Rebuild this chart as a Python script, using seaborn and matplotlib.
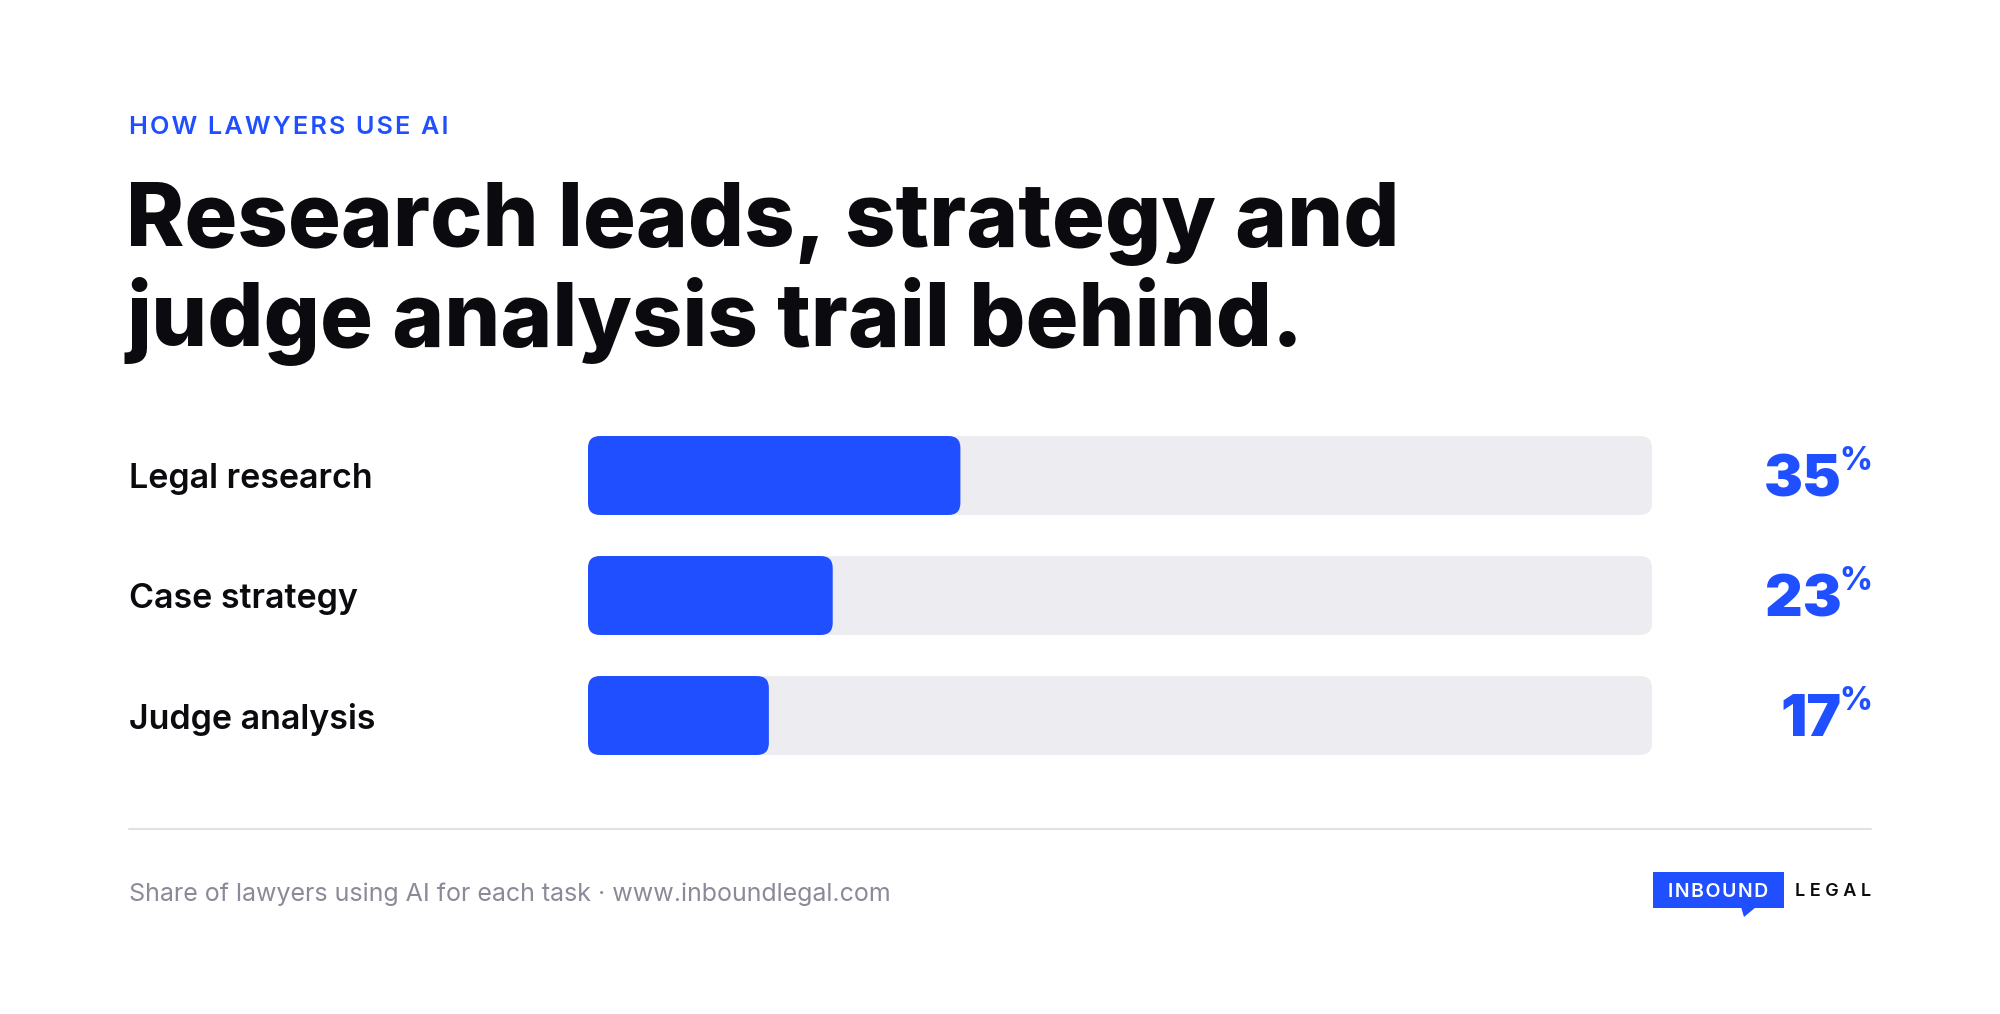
import matplotlib
matplotlib.use("Agg")
import matplotlib.pyplot as plt
import matplotlib.transforms as mtransforms
from matplotlib.patches import FancyBboxPatch, Polygon, Rectangle
from matplotlib.lines import Line2D
import seaborn as sns
import pandas as pd

# ---------------- data ----------------
categories = ["Legal research", "Case strategy", "Judge analysis"]
values = [35, 23, 17]
track_max = [100, 100, 100]
value_labels = ["35", "23", "17"]
eyebrow = "HOW LAWYERS USE AI"
title_lines = ["Research leads, strategy and", "judge analysis trail behind."]
footer = "Share of lawyers using AI for each task · www.inboundlegal.com"
logo_left = "INBOUND"
logo_right = "LEGAL"

# ---------------- style ----------------
BLUE = "#1F4FFF"
TRACK = "#ECECF1"
INK = "#0B0B0F"
GRAY = "#8A8A99"
RULE = "#E1E1E8"

sns.set_theme(style="white")
plt.rcParams["font.family"] = ["Inter", "DejaVu Sans"]

W, H = 2000, 1014
fig = plt.figure(figsize=(20, 10.14), dpi=100)
fig.patch.set_facecolor("white")


def fx(px):
    return px / W


def fy(py):
    return 1 - py / H


def spaced(s, sep="\u200a"):
    return sep.join(s)


# bar axes: x 588..1652 px, rows centred at 475.5 / 595.5 / 715.5 px
AX_L, AX_R = 588, 1652
ROW_PX = 120
ax = fig.add_axes([fx(AX_L), fy(475.5 + 2.5 * ROW_PX), (AX_R - AX_L) / W, 3 * ROW_PX / H])
df = pd.DataFrame({"task": categories, "value": values, "track": track_max})
sns.barplot(data=df, x="track", y="task", color=TRACK, width=0.658, saturation=1,
            orient="h", ax=ax)
sns.barplot(data=df, x="value", y="task", color=BLUE, width=0.658, saturation=1,
            orient="h", ax=ax)
ax.set_xlim(0, 100)
ax.set_ylim(2.5, -0.5)
ax.axis("off")

# round the bar corners
x_per_px = 100 / (AX_R - AX_L)
y_per_px = 3 / (3 * ROW_PX)
radius_px = 12
for p in list(ax.patches):
    x, y, w, h = p.get_x(), p.get_y(), p.get_width(), p.get_height()
    fc = p.get_facecolor()
    p.remove()
    ax.add_patch(FancyBboxPatch(
        (x, y), w, h,
        boxstyle=f"round,pad=0,rounding_size={radius_px * x_per_px}",
        mutation_aspect=y_per_px / x_per_px,
        fc=fc, ec="none", lw=0))

trans = mtransforms.blended_transform_factory(fig.transFigure, ax.transData)

# category labels
for i, cat in enumerate(categories):
    ax.text(fx(129), i, cat, transform=trans, ha="left", va="center_baseline",
            fontsize=24.5, fontweight="semibold", color=INK)

# value labels with superscript %
for i, v in enumerate(value_labels):
    ax.text(fx(1842), i, v, transform=trans, ha="right", va="center_baseline",
            fontsize=42, fontweight="black", color=BLUE)
    ax.annotate("%", xy=(fx(1872), i), xycoords=trans, xytext=(0, 29),
                textcoords="offset pixels", ha="right", va="top",
                fontsize=23, fontweight="heavy", color=BLUE)

# header
fig.text(fx(129), fy(127), spaced(eyebrow), ha="left", va="center", fontsize=18.2,
         fontweight="semibold", color=BLUE)
fig.text(fx(126), fy(246), title_lines[0], ha="left", va="baseline", fontsize=63.5,
         fontweight="heavy", color=INK)
fig.text(fx(126), fy(346), title_lines[1], ha="left", va="baseline", fontsize=63.5,
         fontweight="heavy", color=INK)

# rule
fig.add_artist(Line2D([fx(129), fx(1871)], [fy(829), fy(829)], color=RULE, lw=1.5,
                      transform=fig.transFigure))

# footer
fig.text(fx(129), fy(894), footer, ha="left", va="center", fontsize=18,
         fontweight="normal", color=GRAY)

# logo
fig.add_artist(Rectangle((fx(1653), fy(908)), fx(1784) - fx(1653), fy(872) - fy(908),
                         transform=fig.transFigure, fc=BLUE, ec="none"))
fig.add_artist(Polygon([(fx(1741), fy(907)), (fx(1756), fy(907)), (fx(1744), fy(917))],
                       closed=True, transform=fig.transFigure, fc=BLUE, ec="none"))
fig.text(fx(1718.5), fy(890), spaced(logo_left), ha="center", va="center_baseline",
         fontsize=14, fontweight="semibold", color="white")
fig.text(fx(1871), fy(890), spaced(logo_right, " "), ha="right", va="center_baseline",
         fontsize=13, fontweight="semibold", color=INK)

fig.savefig("out.png", dpi=100, facecolor="white")
